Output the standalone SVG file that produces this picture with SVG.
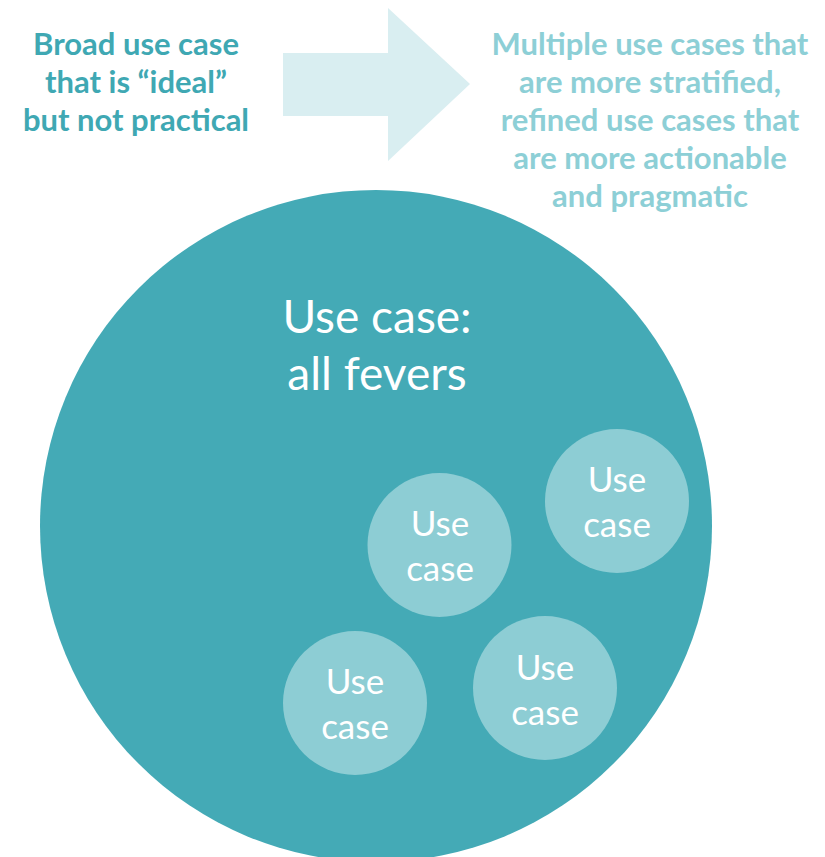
<svg xmlns="http://www.w3.org/2000/svg" width="825" height="857" viewBox="0 0 825 857">
<style>
.t{font-family:Lato,"Open Sans","Liberation Sans",sans-serif;text-anchor:middle}
.hl{font-weight:bold;font-size:31px;fill:#3FA8B3}
.hr{font-weight:bold;font-size:31px;fill:#8DCFD6}
.big{font-size:46px;fill:#FFFFFF}
.sm{font-size:35px;fill:#FFFFFF}
.sc{fill:#8DCDD4}
</style>
<rect width="825" height="857" fill="#FFFFFF"/>
<g id="arrow"><polygon points="283,53 388,53 388,8 470,84 388,161 388,116 283,116" fill="#D9EEF1"/></g>
<g id="label-left">
<text class="t hl" x="136" y="55">Broad use case</text>
<text class="t hl" x="136" y="93">that is “ideal”</text>
<text class="t hl" x="136" y="131">but not practical</text>
</g>
<g id="label-right">
<text class="t hr" x="650" y="55">Multiple use cases that</text>
<text class="t hr" x="650" y="93">are more stratified,</text>
<text class="t hr" x="650" y="131">refined use cases that</text>
<text class="t hr" x="650" y="169">are more actionable</text>
<text class="t hr" x="650" y="207">and pragmatic</text>
</g>
<g id="all-fevers">
<circle cx="376" cy="526" r="336" fill="#44AAB6"/>
<text class="t big" x="377" y="333">Use case:</text>
<text class="t big" x="377" y="390">all fevers</text>
</g>
<g id="uc1"><circle class="sc" cx="439.5" cy="545" r="72"/><text class="t sm" x="440" y="536">Use</text><text class="t sm" x="440" y="581">case</text></g>
<g id="uc2"><circle class="sc" cx="617" cy="501" r="72"/><text class="t sm" x="617" y="492">Use</text><text class="t sm" x="617" y="537">case</text></g>
<g id="uc3"><circle class="sc" cx="355" cy="703" r="72"/><text class="t sm" x="355" y="694">Use</text><text class="t sm" x="355" y="739">case</text></g>
<g id="uc4"><circle class="sc" cx="545" cy="688" r="72"/><text class="t sm" x="545" y="680">Use</text><text class="t sm" x="545" y="725">case</text></g>
<g id="connectors"/>
</svg>
